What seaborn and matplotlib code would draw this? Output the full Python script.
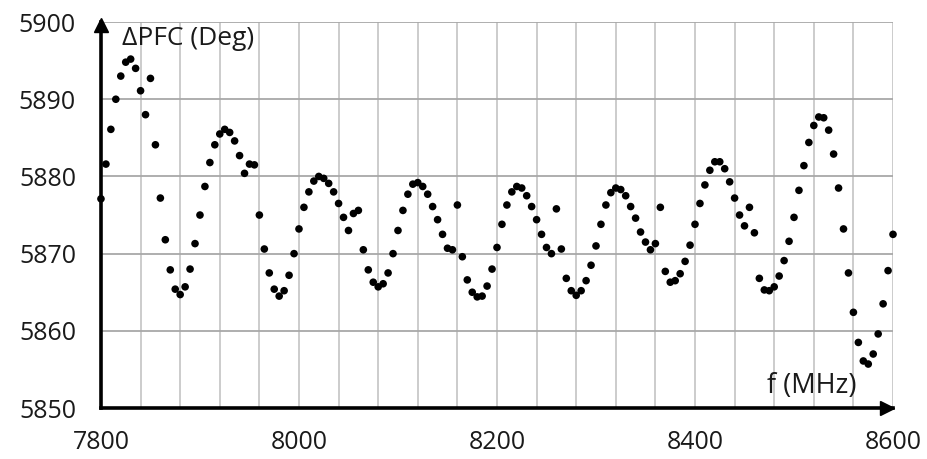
import numpy as np
import matplotlib
matplotlib.use("Agg")
import matplotlib.pyplot as plt
import matplotlib.transforms as mtransforms
from matplotlib.ticker import MultipleLocator
import seaborn as sns

# frequency grid of the measurement: one sample every 5 MHz
freq = np.arange(7800, 8601, 5)

pfc = [
    5877.1, 5881.6, 5886.1, 5890.0, 5893.0, 5894.8, 5895.2, 5894.0, 5891.1, 5888.0,
    5892.7, 5884.1, 5877.2, 5871.8, 5867.9, 5865.4, 5864.7, 5865.7, 5868.0, 5871.3,
    5875.0, 5878.7, 5881.8, 5884.1, 5885.5, 5886.1, 5885.7, 5884.6, 5882.7, 5880.4,
    5881.6, 5881.5, 5875.0, 5870.6, 5867.5, 5865.4, 5864.5, 5865.2, 5867.2, 5870.0,
    5873.2, 5876.0, 5878.0, 5879.4, 5880.0, 5879.75, 5879.1, 5878.0, 5876.5, 5874.7,
    5873.0, 5875.2, 5875.6, 5870.5, 5867.9, 5866.3, 5865.7, 5866.1, 5867.5, 5870.0,
    5873.0, 5875.6, 5877.7, 5879.0, 5879.2, 5878.7, 5877.7, 5876.1, 5874.4, 5872.5,
    5870.7, 5870.5, 5876.3, 5869.6, 5866.6, 5865.0, 5864.4, 5864.5, 5865.8, 5868.0,
    5870.8, 5873.8, 5876.3, 5878.0, 5878.7, 5878.5, 5877.5, 5876.1, 5874.4, 5872.5,
    5870.8, 5870.0, 5875.8, 5870.6, 5866.8, 5865.2, 5864.6, 5865.2, 5866.5, 5868.5,
    5871.0, 5873.8, 5876.3, 5877.9, 5878.5, 5878.3, 5877.5, 5876.1, 5874.6, 5872.8,
    5871.5, 5870.5, 5871.3, 5876.0, 5867.7, 5866.3, 5866.5, 5867.4, 5869.0, 5871.1,
    5873.8, 5876.5, 5878.9, 5880.8, 5881.9, 5881.9, 5881.0, 5879.3, 5877.2, 5875.0,
    5873.6, 5876.0, 5872.7, 5866.8, 5865.3, 5865.2, 5865.7, 5867.1, 5869.1, 5871.6,
    5874.7, 5878.2, 5881.4, 5884.4, 5886.6, 5887.7, 5887.6, 5886.0, 5882.9, 5878.5,
    5873.2, 5867.5, 5862.4, 5858.5, 5856.1, 5855.7, 5857.0, 5859.6, 5863.5, 5867.8,
    5872.5,
]

x_ticks = [7800, 8000, 8200, 8400, 8600]
y_ticks = [5850, 5860, 5870, 5880, 5890, 5900]

sns.set_style("white")
plt.rcParams["font.family"] = ["Open Sans", "DejaVu Sans"]

fig = plt.figure(figsize=(9.28, 4.59), dpi=100)
ax = fig.add_axes([0.1088, 0.111, 0.8535, 0.841])

sns.scatterplot(x=freq, y=pfc, color="black", s=30, edgecolor="none", ax=ax,
                zorder=6, clip_on=False)

ax.set_xlim(7800, 8600)
ax.set_ylim(5850, 5900)
ax.set_xticks(x_ticks)
ax.set_yticks(y_ticks)
ax.xaxis.set_minor_locator(MultipleLocator(40))
ax.grid(which="both", axis="x", color="#c8c8c8", lw=1.3)
ax.grid(which="major", axis="y", color="#a8a8a8", lw=1.3)
ax.set_axisbelow(True)

for side in ["top", "right"]:
    ax.spines[side].set_visible(False)
for side in ["left", "bottom"]:
    ax.spines[side].set_color("black")
    ax.spines[side].set_linewidth(2.6)
    ax.spines[side].set_zorder(4)

ax.tick_params(axis="both", which="major", direction="out", length=6, width=2.2,
               color="black", labelsize=18, labelcolor="#1a1a1a")
ax.tick_params(axis="y", pad=12)
ax.tick_params(axis="x", pad=10)
ax.tick_params(axis="x", which="minor", length=0)

# arrow heads on the two axes
right_tr = mtransforms.offset_copy(ax.transAxes, fig, x=-4.5, units="points")
top_tr = mtransforms.offset_copy(ax.transAxes, fig, y=-2, units="points")
ax.plot(1, 0, marker=">", ms=10, color="black", transform=right_tr, clip_on=False, zorder=5)
ax.plot(0, 1, marker="^", ms=10, color="black", transform=top_tr, clip_on=False, zorder=5)

ax.text(7821, 5897.9, "ΔPFC (Deg)", fontsize=19, color="#1a1a1a", ha="left", va="center")
ax.text(8473, 5852.9, "f (MHz)", fontsize=19.5, color="#1a1a1a", ha="left", va="center")

ax.set_xlabel("")
ax.set_ylabel("")

fig.savefig("out.png", dpi=100)
